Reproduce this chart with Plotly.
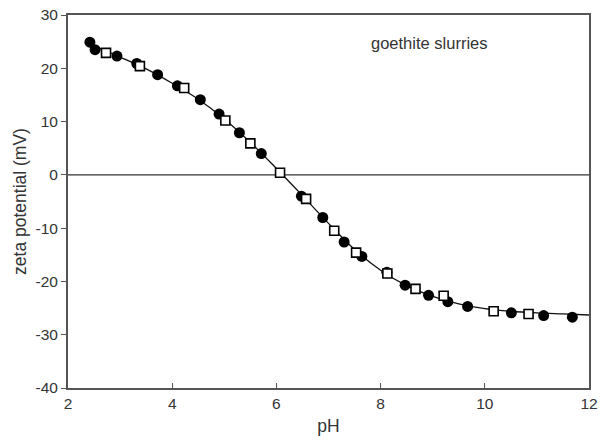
import plotly.graph_objects as go

# Zeta potential of goethite slurries versus pH
ph_filled = [2.42, 2.52, 2.94, 3.32, 3.72, 4.10, 4.54, 4.90, 5.29, 5.71, 6.48,
             6.89, 7.30, 7.64, 8.12, 8.47, 8.92, 9.29, 9.67, 10.51, 11.13, 11.68]
zeta_filled = [24.9, 23.5, 22.3, 20.9, 18.8, 16.7, 14.1, 11.4, 7.9, 4.0, -4.0,
               -8.0, -12.6, -15.3, -18.3, -20.7, -22.6, -23.8, -24.7, -25.9, -26.4, -26.7]

ph_open = [2.73, 3.38, 4.23, 5.02, 5.50, 6.07, 6.57, 7.11, 7.53, 8.13, 8.67,
           9.21, 10.17, 10.84]
zeta_open = [22.9, 20.4, 16.3, 10.2, 5.9, 0.4, -4.5, -10.5, -14.6, -18.5, -21.4,
             -22.7, -25.6, -26.1]

# Fitted curve through both data sets
ph_fit = [2.45, 3.0, 3.5, 4.0, 4.5, 5.0, 5.5, 6.0, 6.5, 7.0, 7.5, 8.0, 8.5,
          9.0, 9.5, 10.0, 10.5, 11.0, 11.5, 12.0]
zeta_fit = [24.4, 22.1, 19.9, 17.2, 14.2, 10.5, 6.1, 1.2, -3.9, -9.1, -14.0,
            -17.9, -20.8, -22.8, -24.2, -25.1, -25.6, -25.9, -26.1, -26.3]

x_ticks = [2, 4, 6, 8, 10, 12]
y_ticks = [-40, -30, -20, -10, 0, 10, 20, 30]
y_tick_text = ["-40", "-30", "-20", "-10", "0", "10", "20", "30"]

FONT = "Liberation Sans, Arial, sans-serif"

fig = go.Figure()

fig.add_trace(go.Scatter(
    x=ph_fit, y=zeta_fit, mode="lines",
    line=dict(color="#111111", width=1.3, shape="spline", smoothing=1.0),
    hoverinfo="skip", showlegend=False))

fig.add_trace(go.Scatter(
    x=ph_filled, y=zeta_filled, mode="markers",
    marker=dict(symbol="circle", size=11, color="#000000",
                line=dict(width=0)),
    showlegend=False))

fig.add_trace(go.Scatter(
    x=ph_open, y=zeta_open, mode="markers",
    marker=dict(symbol="square", size=9, color="#ffffff",
                line=dict(width=1.6, color="#000000")),
    showlegend=False))

fig.add_hline(y=0, line=dict(color="#333333", width=1.3), layer="below")

fig.add_annotation(x=8.92, y=24.8, text="goethite slurries", showarrow=False,
                   font=dict(family=FONT, size=16.5, color="#333333"))

axis_common = dict(
    showgrid=False, zeroline=False, showline=True, linecolor="#555555",
    linewidth=2, mirror=True, automargin=False,
    tickfont=dict(family=FONT, size=15.5, color="#333333"),
    tickcolor="#555555", tickwidth=1.3, ticklen=5,
)

fig.update_xaxes(range=[2, 12], tickvals=x_ticks, ticks="inside",
                 title=dict(text="pH", standoff=9,
                            font=dict(family=FONT, size=17.5, color="#333333")),
                 **axis_common)
fig.update_yaxes(range=[-40, 30], tickvals=y_ticks, ticktext=y_tick_text,
                 ticks="outside",
                 title=dict(text="zeta potential (mV)", standoff=4,
                            font=dict(family=FONT, size=17.5, color="#333333")),
                 **axis_common)

fig.update_layout(
    width=601, height=441,
    margin=dict(l=68, r=12, t=15, b=53, autoexpand=False),
    paper_bgcolor="#ffffff", plot_bgcolor="#ffffff",
)

fig.write_html("out.html")
